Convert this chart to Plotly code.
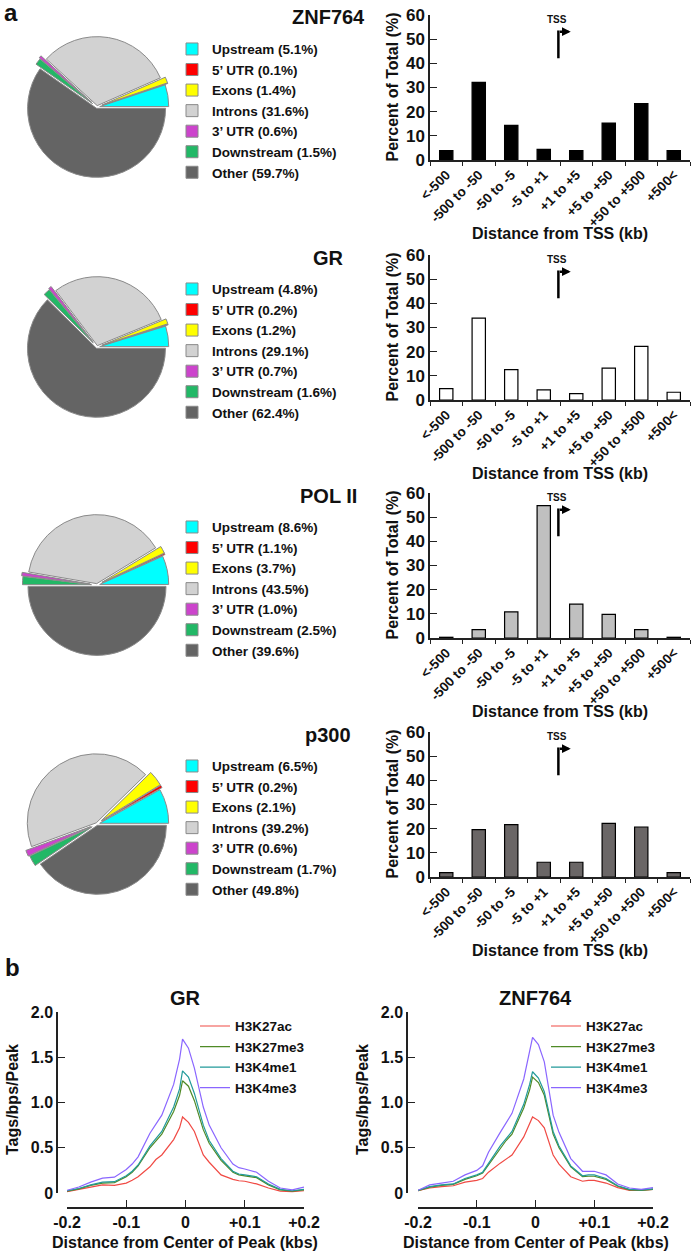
import plotly.graph_objects as go

W, H = 697, 1255

# genomic distribution of peaks: percentages printed in the legends
regions = ["Upstream", "5’ UTR", "Exons", "Introns", "3’ UTR", "Downstream", "Other"]
factors = ["ZNF764", "GR", "POL II", "p300"]
pct_znf764 = [5.1, 0.1, 1.4, 31.6, 0.6, 1.5, 59.7]
pct_gr = [4.8, 0.2, 1.2, 29.1, 0.7, 1.6, 62.4]
pct_pol2 = [8.6, 1.1, 3.7, 43.5, 1.0, 2.5, 39.6]
pct_p300 = [6.5, 0.2, 2.1, 39.2, 0.6, 1.7, 49.8]

# slice sizes as drawn in the pies
slice_znf764 = [5.1, 0.1, 1.4, 31.6, 0.6, 1.5, 59.7]
slice_gr = [4.8, 0.2, 1.2, 29.1, 0.7, 1.6, 62.4]
slice_pol2 = [6.7, 0.3, 1.7, 38.6, 0.8, 1.9, 50.0]
slice_p300 = [8.1, 0.6, 3.6, 43.3, 1.4, 2.5, 40.5]

# distance from TSS (bar charts), percent of total
tss_bins = ["<-500", "-500 to -50", "-50 to -5", "-5 to +1", "+1 to +5", "+5 to +50", "+50 to +500", "+500<"]
tss_znf764 = [3.9, 32.1, 14.3, 4.4, 3.9, 15.3, 23.3, 3.9]
tss_gr = [4.7, 33.9, 12.6, 4.2, 2.6, 13.2, 22.2, 3.2]
tss_pol2 = [0.3, 3.5, 10.8, 54.8, 14.0, 9.8, 3.5, 0.3]
tss_p300 = [1.8, 19.6, 21.7, 6.1, 6.1, 22.2, 20.7, 1.8]

# histone mark profiles around peak centres (panel b)
marks = ["H3K27ac", "H3K27me3", "H3K4me1", "H3K4me3"]
dist_kb = [-0.20, -0.18, -0.16, -0.14, -0.12, -0.10, -0.09, -0.08, -0.06, -0.05, -0.04, -0.02, -0.01,
           -0.005, 0.005, 0.015, 0.03, 0.04, 0.06, 0.08, 0.09, 0.10, 0.12, 0.14, 0.16, 0.18, 0.20]
gr_h3k27ac = [0.015, 0.04, 0.066, 0.09, 0.085, 0.11, 0.14, 0.18, 0.29, 0.37, 0.42, 0.59, 0.72, 0.84,
              0.78, 0.68, 0.42, 0.34, 0.20, 0.15, 0.135, 0.13, 0.10, 0.055, 0.02, 0.015, 0.025]
gr_h3k27me3 = [0.02, 0.045, 0.085, 0.11, 0.115, 0.18, 0.23, 0.30, 0.50, 0.57, 0.65, 0.90, 1.08, 1.24,
               1.18, 1.02, 0.70, 0.55, 0.36, 0.23, 0.20, 0.19, 0.17, 0.09, 0.035, 0.02, 0.035]
gr_h3k4me1 = [0.025, 0.05, 0.09, 0.12, 0.125, 0.19, 0.24, 0.31, 0.52, 0.60, 0.68, 0.95, 1.15, 1.35,
              1.28, 1.10, 0.75, 0.58, 0.38, 0.24, 0.21, 0.20, 0.18, 0.10, 0.04, 0.025, 0.04]
gr_h3k4me3 = [0.03, 0.066, 0.12, 0.165, 0.175, 0.26, 0.32, 0.40, 0.66, 0.76, 0.86, 1.20, 1.48, 1.70,
              1.60, 1.38, 0.95, 0.75, 0.50, 0.32, 0.28, 0.265, 0.23, 0.13, 0.055, 0.035, 0.065]
znf_h3k27ac = [0.025, 0.055, 0.07, 0.08, 0.12, 0.14, 0.16, 0.23, 0.33, 0.38, 0.42, 0.62, 0.78, 0.84,
               0.80, 0.72, 0.42, 0.32, 0.18, 0.13, 0.14, 0.14, 0.11, 0.06, 0.03, 0.03, 0.04]
znf_h3k27me3 = [0.025, 0.065, 0.085, 0.095, 0.15, 0.19, 0.22, 0.31, 0.50, 0.58, 0.65, 0.94, 1.14, 1.28,
                1.22, 1.08, 0.65, 0.50, 0.29, 0.18, 0.185, 0.185, 0.15, 0.075, 0.035, 0.03, 0.04]
znf_h3k4me1 = [0.03, 0.07, 0.09, 0.10, 0.16, 0.20, 0.23, 0.33, 0.52, 0.60, 0.68, 0.98, 1.20, 1.34,
               1.27, 1.12, 0.68, 0.52, 0.30, 0.19, 0.20, 0.20, 0.16, 0.08, 0.04, 0.035, 0.045]
znf_h3k4me3 = [0.03, 0.09, 0.11, 0.13, 0.20, 0.25, 0.30, 0.45, 0.67, 0.78, 0.88, 1.26, 1.56, 1.72,
               1.64, 1.45, 0.86, 0.67, 0.38, 0.24, 0.24, 0.24, 0.20, 0.10, 0.055, 0.04, 0.06]

region_colors = ["#00FFFF", "#FF0000", "#FFFF00", "#D2D2D2", "#CC44CC", "#22B866", "#646464"]
bar_colors = ["#000000", "#FFFFFF", "#C0C0C0", "#6A6666"]
mark_colors = ["#F04A44", "#4F8A26", "#229A9A", "#8A66FF"]
pulls = [0.04, 0.08, 0.08, 0.02, 0.1, 0.08, 0.02]

FONT = "Liberation Sans, Arial, Helvetica, sans-serif"
AXC = "#222222"


def px_x(p):
    return p / W


def px_y(p):
    return 1 - p / H


fig = go.Figure()
annotations = []
shapes = []
layout = {}

row_top = [15, 255, 493, 732]
pct_sets = [pct_znf764, pct_gr, pct_pol2, pct_p300]
slice_sets = [slice_znf764, slice_gr, slice_pol2, slice_p300]
tss_sets = [tss_znf764, tss_gr, tss_pol2, tss_p300]
pie_r = 69
half = pie_r * (1 + max(pulls))

for i in range(4):
    top = row_top[i]
    pct, vals = pct_sets[i], slice_sets[i]
    cx, cy = 97, top + 92
    lg = "legend" if i == 0 else f"legend{i + 1}"
    fig.add_trace(go.Pie(
        labels=[f"{r} ({v:.1f}%)" for r, v in zip(regions, pct)], values=vals,
        sort=False, direction="counterclockwise", rotation=90 - 360 * vals[0] / sum(vals),
        pull=pulls, textinfo="none", hoverinfo="label", legendgroup=f"pie{i}",
        marker=dict(colors=region_colors, line=dict(color="#8a8a8a", width=1)),
        domain=dict(x=[px_x(cx - half), px_x(cx + half)], y=[px_y(cy + half), px_y(cy - half)]),
        legend=lg,
    ))
    layout[lg] = dict(x=px_x(172), y=px_y(top + 34 - 15.3), xanchor="left", yanchor="top",
                      font=dict(size=13.5), bgcolor="rgba(0,0,0,0)", borderwidth=0)

    sfx = "" if i == 0 else str(i + 1)
    fig.add_trace(go.Bar(
        x=tss_bins, y=tss_sets[i], xaxis="x" + sfx, yaxis="y" + sfx, showlegend=False,
        marker=dict(color=bar_colors[i], line=dict(color="#000000", width=1.2)),
    ))
    layout["xaxis" + sfx] = dict(
        domain=[px_x(430), px_x(690)], anchor="y" + sfx, type="category", range=[-0.5, 7.5],
        tickangle=-45, ticks="outside", ticklen=4, tickson="boundaries", tickcolor=AXC,
        showline=True, linecolor=AXC, linewidth=1.5, showgrid=False, zeroline=False,
        tickfont=dict(size=13.5), automargin=False,
    )
    layout["yaxis" + sfx] = dict(
        domain=[px_y(top + 145), px_y(top)], anchor="x" + sfx, range=[0, 60],
        tickvals=[0, 10, 20, 30, 40, 50, 60], ticks="inside", ticklen=7, tickcolor=AXC,
        showline=True, linecolor=AXC, linewidth=1.5, showgrid=False, zeroline=False,
        tickfont=dict(size=17), automargin=False,
    )
    xr, yr = "x" + sfx, "y" + sfx
    annotations += [
        dict(text=factors[i], x=px_x(328), y=px_y(top + 2.5), xref="paper", yref="paper",
             showarrow=False, font=dict(size=20), xanchor="center", yanchor="middle"),
        dict(text="Distance from TSS (kb)", x=px_x(560), y=px_y(top + 218), xref="paper", yref="paper",
             showarrow=False, font=dict(size=16), xanchor="center", yanchor="middle"),
        dict(text="Percent of Total (%)", x=px_x(392), y=px_y(top + 72.5), xref="paper", yref="paper",
             showarrow=False, font=dict(size=16), textangle=-90, xanchor="center", yanchor="middle"),
        dict(text="TSS", x=3.40, y=58.3, xref=xr, yref=yr, showarrow=False,
             font=dict(size=10), xanchor="center", yanchor="middle"),
        dict(text="", x=3.83, y=53.1, ax=3.45, ay=53.1, xref=xr, yref=yr, axref=xr, ayref=yr,
             showarrow=True, arrowhead=2, arrowsize=0.7, arrowwidth=2.5, arrowcolor="#000000"),
    ]
    shapes.append(dict(type="line", xref=xr, yref=yr, x0=3.45, x1=3.45, y0=42.1, y1=53.6,
                       line=dict(color="#000000", width=2.5)))

# panel b
b_sets = [
    ("GR", [gr_h3k27ac, gr_h3k27me3, gr_h3k4me1, gr_h3k4me3], 67, 304, 57),
    ("ZNF764", [znf_h3k27ac, znf_h3k27me3, znf_h3k4me1, znf_h3k4me3], 418, 653, 407),
]
for j, (title, sets, x0, x1, yline) in enumerate(b_sets):
    n = 5 + j
    lg = f"legend{n}"
    for mark, colr, vals in zip(marks, mark_colors, sets):
        fig.add_trace(go.Scatter(x=dist_kb, y=vals, mode="lines", name=mark,
                                 line=dict(color=colr, width=1.2),
                                 xaxis=f"x{n}", yaxis=f"y{n}", legend=lg))
    layout[lg] = dict(x=px_x(x0 + 168 - 40), y=px_y(1026 - 5 - 10.3), xanchor="left", yanchor="top",
                      font=dict(size=13.5), bgcolor="rgba(0,0,0,0)", borderwidth=0)
    layout[f"xaxis{n}"] = dict(
        domain=[px_x(x0), px_x(x1)], anchor="free", position=px_y(1208), range=[-0.2, 0.2],
        tickvals=[-0.2, -0.1, 0, 0.1, 0.2], ticktext=["-0.2", "-0.1", "0", "+0.1", "+0.2"],
        ticks="inside", ticklen=7, tickcolor=AXC, showline=True, linecolor=AXC, linewidth=1.5,
        showgrid=False, zeroline=False, tickfont=dict(size=16), automargin=False,
    )
    layout[f"yaxis{n}"] = dict(
        domain=[px_y(1193), px_y(1012)], anchor="free", position=px_x(yline), range=[0, 2],
        tickvals=[0, 0.5, 1.0, 1.5, 2.0], ticktext=["0", "0.5", "1.0", "1.5", "2.0"],
        ticks="inside", ticklen=7, tickcolor=AXC, showline=True, linecolor=AXC, linewidth=1.5,
        showgrid=False, zeroline=False, tickfont=dict(size=16), automargin=False,
    )
    cxm = (x0 + x1) / 2
    annotations += [
        dict(text=title, x=px_x(cxm), y=px_y(998), xref="paper", yref="paper", showarrow=False,
             font=dict(size=20), xanchor="center", yanchor="middle"),
        dict(text="Distance from Center of Peak (kbs)", x=px_x(cxm), y=px_y(1242), xref="paper",
             yref="paper", showarrow=False, font=dict(size=16), xanchor="center", yanchor="middle"),
        dict(text="Tags/bps/Peak", x=px_x(yline - 45), y=px_y(1100), xref="paper", yref="paper",
             showarrow=False, font=dict(size=16), textangle=-90, xanchor="center", yanchor="middle"),
    ]

annotations += [
    dict(text="a", x=px_x(11), y=px_y(12), xref="paper", yref="paper", showarrow=False,
         font=dict(size=24), xanchor="center", yanchor="middle"),
    dict(text="b", x=px_x(12), y=px_y(967), xref="paper", yref="paper", showarrow=False,
         font=dict(size=24), xanchor="center", yanchor="middle"),
]

fig.update_layout(
    width=W, height=H, margin=dict(l=0, r=0, t=0, b=0),
    paper_bgcolor="white", plot_bgcolor="white",
    font=dict(family=FONT, color="#111111", weight="bold"),
    bargap=0.59, annotations=annotations, shapes=shapes, hovermode=False,
    **layout,
)

# drop the default 8px body margin so the figure sits at the page corner
fig.write_html("out.html", config={"displayModeBar": False},
               post_script="document.body.style.margin='0px';")
